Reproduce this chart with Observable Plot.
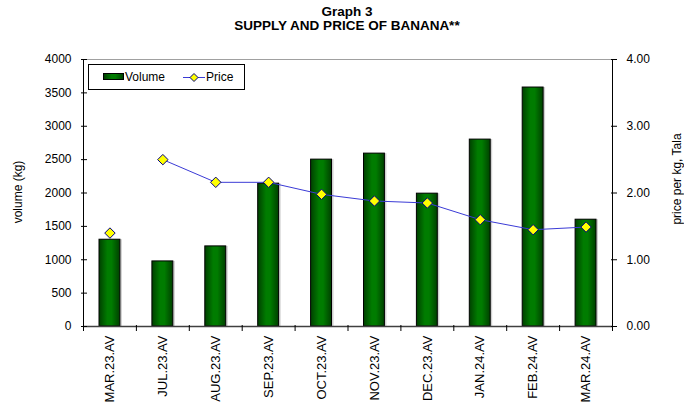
<!DOCTYPE html>
<html>
<head>
<meta charset="utf-8">
<script src="https://cdn.jsdelivr.net/npm/d3@7"></script>
<script src="https://cdn.jsdelivr.net/npm/@observablehq/plot@0.6"></script>
<style>
  body { margin: 0; background: #fff; font-family: "Liberation Sans", Arial, sans-serif; color: #000; }
  #wrap { position: relative; width: 684px; height: 406px; overflow: hidden; }
  #title { height: 40px; box-sizing: border-box; padding-top: 5px; padding-left: 10px; text-align: center;
           font-weight: bold; font-size: 13.5px; line-height: 14px; }
  #legend { position: absolute; left: 88px; top: 64px; width: 157px; height: 26px; box-sizing: border-box;
            border: 1px solid #000; background: #fff; font-size: 12px; }
  #legend .sw { position: absolute; left: 14px; top: 8px; width: 21px; height: 7px; box-sizing: border-box;
                border: 1px solid #000; background: linear-gradient(to right, #004000, #007c00 40%, #007c00 60%, #004000); }
  #legend .t1 { position: absolute; left: 36px; top: 5px; }
  #legend .t2 { position: absolute; left: 117px; top: 5px; }
  #legend svg { position: absolute; left: 94px; top: 7px; }
  .ylab { position: absolute; font-size: 12px; white-space: nowrap; transform: translate(-50%, -50%) rotate(-90deg); }
</style>
</head>
<body>
<div id="wrap">
  <div id="title">Graph 3<br>SUPPLY AND PRICE OF BANANA**</div>
  <div id="chart"></div>
  <div class="ylab" style="left:18px; top:192px;">volume (kg)</div>
  <div class="ylab" style="left:677px; top:179px;">price per kg, Tala</div>
  <div id="legend">
    <span class="sw"></span><span class="t1">Volume</span>
    <svg width="22" height="11"><line x1="0" y1="5.5" x2="22" y2="5.5" stroke="#3b3bd6" stroke-width="1"/>
      <path d="M11,1.5 L15,5.5 L11,9.5 L7,5.5 Z" fill="#ffff00" stroke="#000080" stroke-width="1"/></svg>
    <span class="t2">Price</span>
  </div>
</div>
<script>
// ---- data ----
const months = ["MAR.23.AV", "JUL.23.AV", "AUG.23.AV", "SEP.23.AV", "OCT.23.AV",
                "NOV.23.AV", "DEC.23.AV", "JAN.24.AV", "FEB.24.AV", "MAR.24.AV"];
const volume = [1300, 975, 1200, 2140, 2500, 2590, 1990, 2800, 3580, 1600];
const price  = [1.40, 2.50, 2.16, 2.16, 1.98, 1.88, 1.85, 1.60, 1.45, 1.49];
const volumeTicks = [0, 500, 1000, 1500, 2000, 2500, 3000, 3500, 4000];
const priceTicks  = [0, 1, 2, 3, 4];
const volumeMax = 4000;
const priceMax = 4;

// price is drawn on the volume scale, scaled by this ratio (secondary axis)
const k = volumeMax / priceMax;
const data = months.map((m, i) => ({ month: m, i, volume: volume[i], price: price[i] }));
// the price line is broken across the APR–JUN gap (no line from MAR.23 to JUL.23)
const lineData = data.filter(d => d.i > 0);
const centers = months.map((m, i) => i + 0.5);
const bounds = d3.range(0, months.length + 1);

const svg = Plot.plot({
  width: 684,
  height: 366,
  marginTop: 19,
  marginBottom: 80,
  marginLeft: 83,
  marginRight: 72,
  style: { fontFamily: "'Liberation Sans', Arial, sans-serif", fontSize: "12px", color: "#000", background: "#fff", overflow: "visible" },
  x: { type: "linear", domain: [0, months.length], axis: null },
  y: { domain: [0, volumeMax], axis: null },
  marks: [
    Plot.ruleY([volumeMax], { stroke: "#a0a0a0" }),
    // bar shadow
    Plot.rectY(data, { x1: d => d.i, x2: d => d.i + 1, y1: 0, y2: "volume", insetLeft: 16, insetRight: 16, dx: 2, fill: "#d0d0d0" }),
    Plot.rectY(data, { x1: d => d.i, x2: d => d.i + 1, y1: 0, y2: "volume", insetLeft: 16, insetRight: 16,
                       fill: "url(#barGrad)", stroke: "#000", strokeWidth: 1 }),
    Plot.line(lineData, { x: d => d.i + 0.5, y: d => d.price * k, stroke: "#3b3bd6", strokeWidth: 1 }),
    Plot.dot(data, { x: d => d.i + 0.5, y: d => d.price * k, symbol: "diamond2", r: 4.7,
                     fill: "#ffff00", stroke: "#000080", strokeWidth: 1 }),
    Plot.ruleX([0], { stroke: "#000" }),
    Plot.ruleX([months.length], { stroke: "#000" }),
    Plot.ruleY([0], { stroke: "#404040", strokeWidth: 1.5 }),
    // left axis
    Plot.axisY({ anchor: "left", ticks: volumeTicks, tickSize: 6, dx: 4, tickFormat: () => "", label: null }),
    Plot.axisY({ anchor: "left", ticks: volumeTicks, tickSize: 0, tickPadding: 12, tickFormat: d => String(d), label: null, fontSize: 12 }),
    // right axis (price)
    Plot.axisY({ anchor: "right", ticks: priceTicks.map(p => p * k), tickSize: 6, dx: -2, tickFormat: () => "", label: null }),
    Plot.axisY({ anchor: "right", ticks: priceTicks.map(p => p * k), tickSize: 0, tickPadding: 14,
                 tickFormat: d => (d / k).toFixed(2), label: null, fontSize: 12 }),
    // x axis
    Plot.axisX({ ticks: bounds, tickSize: 6, dy: -1, tickFormat: () => "", label: null }),
    Plot.axisX({ ticks: centers, tickSize: 0, tickPadding: 9, tickRotate: -90,
                 tickFormat: v => months[Math.floor(v)], label: null, fontSize: 13 })
  ]
});

const defs = d3.select(svg).insert("defs", ":first-child");
const grad = defs.append("linearGradient").attr("id", "barGrad")
  .attr("x1", "0").attr("x2", "1").attr("y1", "0").attr("y2", "0");
grad.append("stop").attr("offset", "0%").attr("stop-color", "#004000");
grad.append("stop").attr("offset", "40%").attr("stop-color", "#007c00");
grad.append("stop").attr("offset", "60%").attr("stop-color", "#007c00");
grad.append("stop").attr("offset", "100%").attr("stop-color", "#004000");

document.getElementById("chart").appendChild(svg);
</script>
</body>
</html>
